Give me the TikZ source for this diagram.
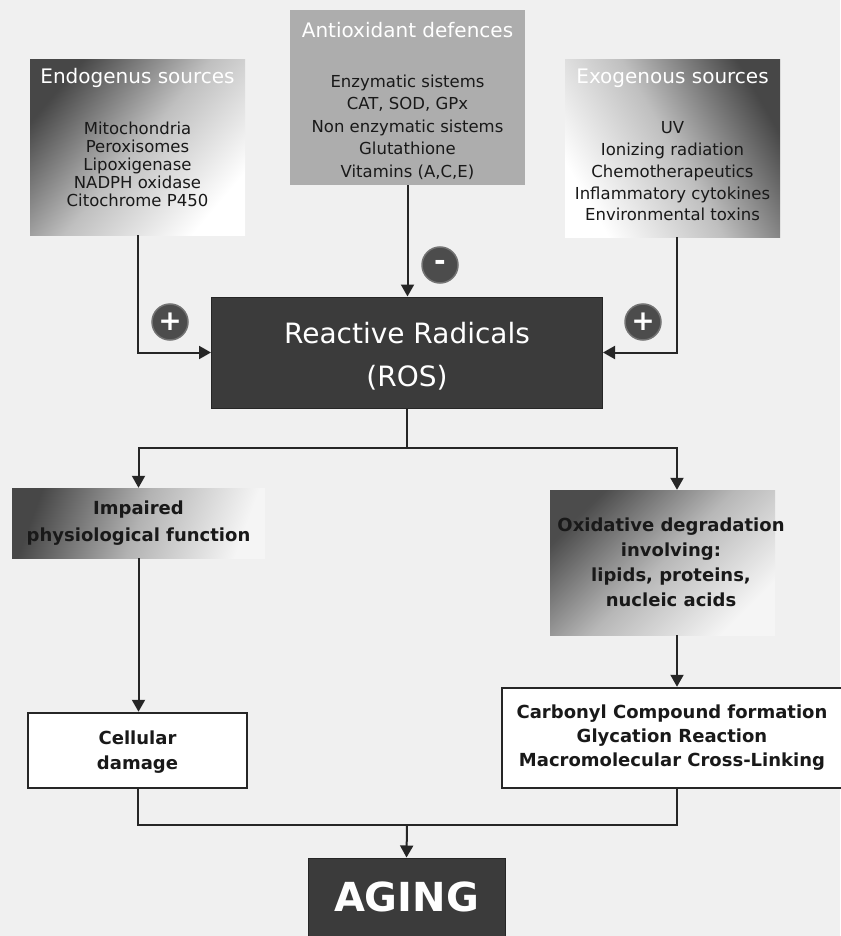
\documentclass[tikz,border=0pt]{standalone}
\usepackage{fontspec}
\setmainfont{DejaVu Sans}
\usetikzlibrary{arrows.meta}
\begin{document}
\begin{tikzpicture}[x=1pt,y=-1pt,
  conn/.style={draw=black!85, line width=2pt},
  arr/.style={conn, -{Triangle[length=12pt,width=13pt]}},
  item/.style={font=\fontsize{16.5}{18}\selectfont, align=center, text=black!90, inner sep=0pt},
  ttl/.style={font=\fontsize{20}{24}\selectfont, text=white, inner sep=0pt},
  bt/.style={font=\bfseries\fontsize{18}{25}\selectfont, align=center, text=black!90, inner sep=0pt},
  box/.style={rectangle, inner sep=0pt},
  darkbox/.style={box, fill=black!77, draw=black!85, line width=1pt},
  whitebox/.style={box, fill=white, draw=black!85, line width=2.5pt},
  sign/.style={circle, fill=black!70, draw=black!55, line width=1.5pt, minimum size=36pt, inner sep=0pt, text=white, font=\bfseries\fontsize{28}{28}\selectfont}
]
\useasboundingbox (0,0) rectangle (840,936);
\fill[black!6] (0,0) rectangle (840,936);

% top boxes
\node[box, minimum width=215pt, minimum height=175pt, top color=black!72, bottom color=white, middle color=black!25, shading angle=50] (endo) at (137.5,147.5) {};
\node[box, minimum width=235pt, minimum height=175pt, fill=black!32] (anti) at (407.5,97.5) {};
\node[box, minimum width=215pt, minimum height=177pt, top color=black!72, bottom color=white, middle color=black!25, shading angle=-60] (exo) at (672.5,148.5) {};

\node[ttl] (endot) at (137.5,78) {Endogenus sources};
\node[item, font=\fontsize{16.5}{18}\selectfont] (endoi) at (137.5,164) {Mitochondria\\Peroxisomes\\Lipoxigenase\\NADPH oxidase\\Citochrome P450};
\node[ttl] (antit) at (407.5,30) {Antioxidant defences};
\node[item, font=\fontsize{16.5}{22.5}\selectfont] (antii) at (407.5,127) {Enzymatic sistems\\CAT, SOD, GPx\\Non enzymatic sistems\\Glutathione\\Vitamins (A,C,E)};
\node[ttl] (exot) at (672.5,78) {Exogenous sources};
\node[item, font=\fontsize{16.5}{21.75}\selectfont] (exoi) at (672.5,171.5) {UV\\Ionizing radiation\\Chemotherapeutics\\Inflammatory cytokines\\Environmental toxins};

% ROS
\node[darkbox, minimum width=391pt, minimum height=111pt] (ros) at (407,352.5) {};
\node[font=\fontsize{28}{43}\selectfont, text=white, align=center, inner sep=0pt] (rost) at (407,356.5) {Reactive Radicals\\(ROS)};

\draw[arr] (endo.south) |- (ros.west);
\draw[arr] (anti.south) -- (anti.south |- ros.north);
\draw[arr] ([xshift=4.5pt]exo.south) |- (ros.east);

\node[sign] (p1) at (170,322) {+};
\node[sign] (m1) at (440,265) {-};
\node[sign] (p2) at (643,322) {+};

% middle boxes
\node[box, minimum width=253pt, minimum height=70pt, top color=black!72, bottom color=black!4, middle color=black!30, shading angle=70] (imp) at (138.5,523) {};
\node[bt, font=\bfseries\fontsize{18}{27}\selectfont] (impt) at (138.5,523.5) {Impaired\\physiological function};
\node[box, minimum width=225pt, minimum height=145pt, top color=black!70, bottom color=black!4, middle color=black!28, shading angle=45] (oxi) at (662.5,562.5) {};
\node[bt] (oxit) at (671,562.5) {Oxidative degradation\\involving:\\lipids, proteins,\\nucleic acids};

\coordinate (split) at (407,448);
\draw[conn] (ros.south) -- (split);

% lower boxes
\node[whitebox, minimum width=219pt, minimum height=75pt] (cell) at (137.5,750.5) {};
\node[bt] (cellt) at (137.5,752) {Cellular\\damage};
\node[whitebox, minimum width=350pt, minimum height=100pt] (carb) at (677,738) {};
\node[bt, font=\bfseries\fontsize{18}{24}\selectfont] (carbt) at (672,738) {Carbonyl Compound formation\\Glycation Reaction\\Macromolecular Cross-Linking};

\draw[arr] (split) -| (imp.north);
\draw[arr] (split) -| (carb.north |- oxi.north);
\draw[arr] (imp.south) -- (imp.south |- cell.north);
\draw[arr] (carb.north |- oxi.south) -- (carb.north);

% aging
\node[darkbox, minimum width=197pt, minimum height=90pt] (aging) at (406.5,903) {};
\node[font=\bfseries\fontsize{40}{40}\selectfont, text=white, inner sep=0pt] (agingt) at (406.5,897) {AGING};

\coordinate (join) at (407,825);
\draw[conn] (cell.south) |- (join);
\draw[conn] (carb.south) |- (join);
\draw[arr] (join) -- (aging.north);
\end{tikzpicture}
\end{document}
